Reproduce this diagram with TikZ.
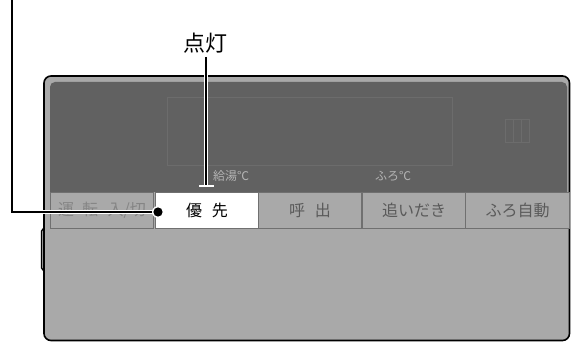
\documentclass[tikz,border=0pt]{standalone}
\usepackage{fontspec}
\setmainfont{Noto Sans CJK JP}
\definecolor{panellight}{HTML}{A9A9A9}
\definecolor{paneldark}{HTML}{616161}
\definecolor{faint}{HTML}{6C6C6C}
\definecolor{btnline}{HTML}{707070}
\definecolor{btntext}{HTML}{5A5A5A}
\definecolor{btndim}{HTML}{858585}
\definecolor{lcdtext}{HTML}{B4B4B4}
\tikzset{
  btn/.style={draw=btnline, line width=1pt, fill=panellight, minimum width=103pt, minimum height=36pt, inner sep=0pt, anchor=north west, text=btntext, font=\fontsize{16}{16}\selectfont},
  btnon/.style={btn, fill=white, text=black},
  lcd/.style={text=lcdtext, font=\fontsize{12}{12}\selectfont, inner sep=0pt},
  halo/.style={white, line width=4.5pt},
  lead/.style={black, line width=2pt},
}
\begin{document}
\begin{tikzpicture}[x=1pt,y=-1pt]
\useasboundingbox (0,0) rectangle (571,342);
% side bump
\draw[line width=1.3pt, fill=panellight, rounded corners=2pt] (45,228) -- (41.5,229) -- (41.5,270) -- (45,271);
% panel body
\draw[line width=1.6pt, fill=panellight, rounded corners=7pt] (44,76) rectangle (569.5,340.5);
% dark area
\fill[paneldark] (50,192) [rounded corners=5pt] -- (50,82) -- (567,82) [sharp corners] -- (567,192) -- cycle;
% display frame
\draw[faint, line width=0.8pt] (167,97) rectangle (452,165);
% small segments
\foreach \i in {0,1,2} \draw[faint, line width=0.8pt] (505+8*\i,119) rectangle (513+8*\i,142);
% labels in display
\node[lcd] (kyuto) at (231,176) {給湯℃};
\node[lcd] (furo) at (393,176) {ふろ℃};
% buttons
\node[btn, text=btndim] (b1) at (50,192) {運\hspace{0.5em}転\hspace{0.6em}入/切};
\node[btnon] (b2) at (155,192) {優\hspace{0.6em}先};
\node[btn] (b3) at (258,192) {呼\hspace{0.6em}出};
\node[btn] (b4) at (362,192) {追いだき};
\node[btn, minimum width=104pt] (b5) at (465,192) {ふろ自動};
% callout: 点灯
\node[font=\fontsize{22}{22}\selectfont, inner sep=0pt] (tento) at (205,43) {点灯};
\coordinate (tentoTop) at (206,57);
\coordinate (tentoEnd) at (206,185);
\draw[halo] (tentoTop) -- (tentoEnd);
\draw[lead] (tentoTop) -- (tentoEnd);
\draw[white, line width=2pt] (199,186) -- (214,186);
% callout: left
\coordinate (topL) at (12,-2);
\coordinate (cornerL) at (12,212);
\coordinate (dotL) at (158,212);
\draw[halo, line join=miter] (topL) -- (cornerL) -- (dotL);
\draw[lead, line join=miter] (topL) -- (cornerL) -- (dotL);
\fill[white] (dotL) circle (6pt);
\fill[black] (dotL) circle (4.6pt);
\end{tikzpicture}
\end{document}
